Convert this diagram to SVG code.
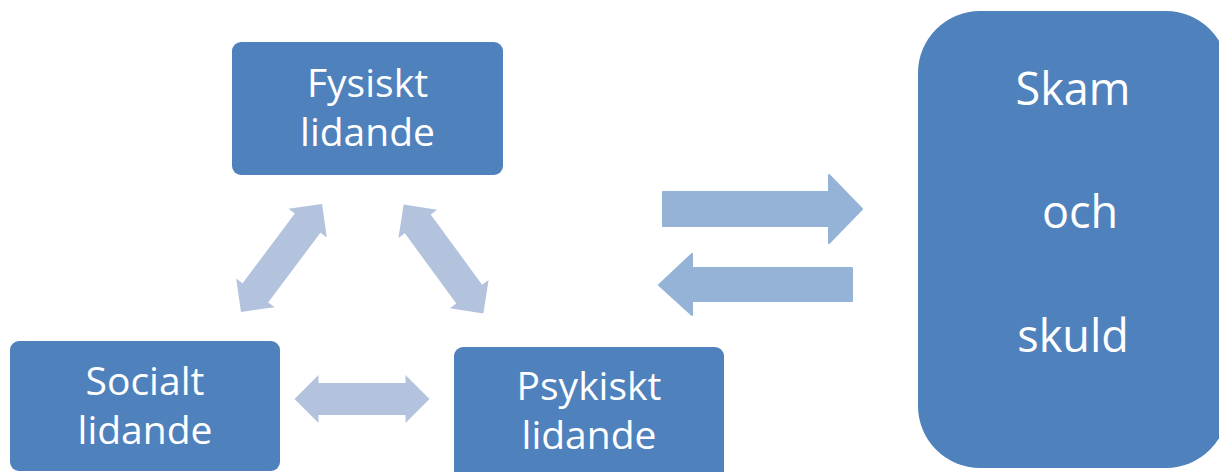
<svg xmlns="http://www.w3.org/2000/svg" width="1219" height="472" viewBox="0 0 1219 472">
<style>
.box{fill:#4F81BD;}
.t{font-family:"Open Sans","Liberation Sans",sans-serif;fill:#FFFFFF;text-anchor:middle;font-size:39px;}
.tb{font-size:45px;}
.da{fill:#B3C3DE;}
.ra{fill:#95B3D7;stroke:#95B3D7;stroke-width:2;stroke-linejoin:round;}
</style>
<defs>
<path id="dbl" d="M -67.5,0 L -43.5,-24 L -43.5,-16 L 43.5,-16 L 43.5,-24 L 67.5,0 L 43.5,24 L 43.5,16 L -43.5,16 L -43.5,24 Z"/>
</defs>
<rect width="1219" height="472" fill="#FFFFFF"/>
<g id="connectors">
<use href="#dbl" class="da" transform="translate(281.5,258) rotate(-53.1)"/>
<use href="#dbl" class="da" transform="translate(443.5,259) rotate(53.8)"/>
<use href="#dbl" class="da" transform="translate(362,399)"/>
<path class="ra" d="M663,192 L829,192 L829,175 L862,209 L829,243 L829,226 L663,226 Z"/>
<path class="ra" d="M659,285 L692,254 L692,268 L852,268 L852,301 L692,301 L692,315 Z"/>
</g>
<g id="fysiskt">
<rect class="box" x="232" y="42" width="271" height="133" rx="9"/>
<text class="t" x="367.5" y="97">Fysiskt</text>
<text class="t" x="367.5" y="146">lidande</text>
</g>
<g id="socialt">
<rect class="box" x="10" y="341" width="270" height="130" rx="9"/>
<text class="t" x="145" y="395">Socialt</text>
<text class="t" x="145" y="444">lidande</text>
</g>
<g id="psykiskt">
<rect class="box" x="454" y="347" width="270" height="135" rx="9"/>
<text class="t" x="589" y="400">Psykiskt</text>
<text class="t" x="589" y="449">lidande</text>
</g>
<g id="skam">
<rect class="box" x="918" y="11" width="310" height="457" rx="62"/>
<text class="t tb" x="1073" y="105">Skam</text>
<text class="t tb" x="1080" y="228">och</text>
<text class="t tb" x="1073" y="352">skuld</text>
</g>
</svg>
